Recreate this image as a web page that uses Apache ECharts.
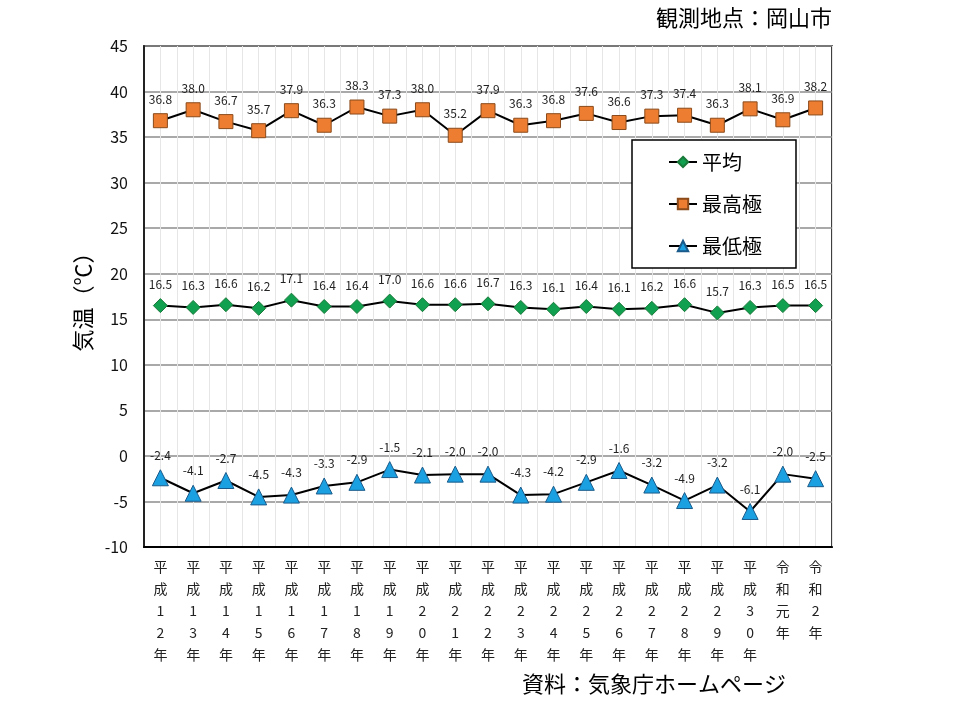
<!DOCTYPE html>
<html>
<head>
<meta charset="utf-8">
<script src="https://cdn.jsdelivr.net/npm/echarts@6/dist/echarts.min.js"></script>
<style>
html,body{margin:0;padding:0;background:#fff;}
#chart{width:960px;height:720px;}
</style>
</head>
<body>
<div id="chart"></div>
<script>
const categories = ['平成12年','平成13年','平成14年','平成15年','平成16年','平成17年','平成18年','平成19年','平成20年','平成21年','平成22年','平成23年','平成24年','平成25年','平成26年','平成27年','平成28年','平成29年','平成30年','令和元年','令和2年'];
const avgTemp = [16.5,16.3,16.6,16.2,17.1,16.4,16.4,17.0,16.6,16.6,16.7,16.3,16.1,16.4,16.1,16.2,16.6,15.7,16.3,16.5,16.5];
const maxTemp = [36.8,38.0,36.7,35.7,37.9,36.3,38.3,37.3,38.0,35.2,37.9,36.3,36.8,37.6,36.6,37.3,37.4,36.3,38.1,36.9,38.2];
const minTemp = [-2.4,-4.1,-2.7,-4.5,-4.3,-3.3,-2.9,-1.5,-2.1,-2.0,-2.0,-4.3,-4.2,-2.9,-1.6,-3.2,-4.9,-3.2,-6.1,-2.0,-2.5];
const yTicks = {min:-10, max:45, interval:5};

const FONT = '"Noto Sans CJK JP", "Noto Sans", sans-serif';
const chart = echarts.init(document.getElementById('chart'));

const lbl = {show:true, position:'top', distance:8, fontSize:12, color:'#222', fontFamily:FONT, formatter:p=>p.value.toFixed(1)};

chart.setOption({
  animation:false,
  backgroundColor:'#fff',
  textStyle:{fontFamily:FONT},
  graphic:[
    {type:'text', right:128, top:7, style:{text:'観測地点：岡山市', font:'22px '+FONT, fill:'#000', textAlign:'right'}},
    {type:'text', left:522, top:673, style:{text:'資料：気象庁ホームページ', font:'22px '+FONT, fill:'#000'}}
  ],
  grid:{left:144, right:128, top:46, bottom:173, show:true, borderColor:'#000', borderWidth:1.5, backgroundColor:'transparent'},
  legend:{
    orient:'vertical', left:632, top:140, width:165,
    padding:[12,34,12,36], itemGap:22, itemWidth:28, itemHeight:13,
    backgroundColor:'#fff', borderColor:'#000', borderWidth:1.5,
    textStyle:{fontSize:20, color:'#000', fontFamily:FONT},
    data:['平均','最高極','最低極']
  },
  xAxis:[
    {type:'category', data:categories, boundaryGap:true,
     axisLine:{onZero:false, lineStyle:{color:'#000', width:2}},
     axisTick:{show:false},
     splitLine:{show:false},
     axisLabel:{interval:0, margin:9, fontSize:14, lineHeight:22, color:'#222', fontFamily:FONT,
       formatter:v=>v.split('').join('\n')}
    },
    {type:'value', min:0, max:42, interval:1, position:'top',
     axisLine:{show:false}, axisTick:{show:false}, axisLabel:{show:false},
     splitLine:{show:true, lineStyle:{color:'#e6e6e6', width:1}}, z:0}
  ],
  yAxis:{type:'value', min:yTicks.min, max:yTicks.max, interval:yTicks.interval,
    name:'気温（℃）', nameLocation:'middle', nameGap:50, nameRotate:90,
    nameTextStyle:{fontSize:22, color:'#000', fontFamily:FONT},
    axisLine:{show:true, lineStyle:{color:'#222', width:2}},
    axisTick:{show:false},
    axisLabel:{fontSize:16, color:'#111', margin:16, fontFamily:FONT},
    splitLine:{show:true, lineStyle:{color:'#8c8c8c', width:1.5}}
  },
  series:[
    {name:'平均', type:'line', data:avgTemp, symbol:'diamond', symbolSize:14,
     lineStyle:{color:'#000', width:2}, itemStyle:{color:'#10a050', borderColor:'#1a7a3a', borderWidth:1},
     label:lbl},
    {name:'最高極', type:'line', data:maxTemp, symbol:'rect', symbolSize:14,
     lineStyle:{color:'#000', width:2}, itemStyle:{color:'#ed7d31', borderColor:'#8a4a1a', borderWidth:1},
     label:lbl},
    {name:'最低極', type:'line', data:minTemp, symbol:'triangle', symbolSize:16,
     lineStyle:{color:'#000', width:2}, itemStyle:{color:'#1ba1e2', borderColor:'#1a5a8a', borderWidth:1},
     label:lbl}
  ]
});
</script>
</body>
</html>
